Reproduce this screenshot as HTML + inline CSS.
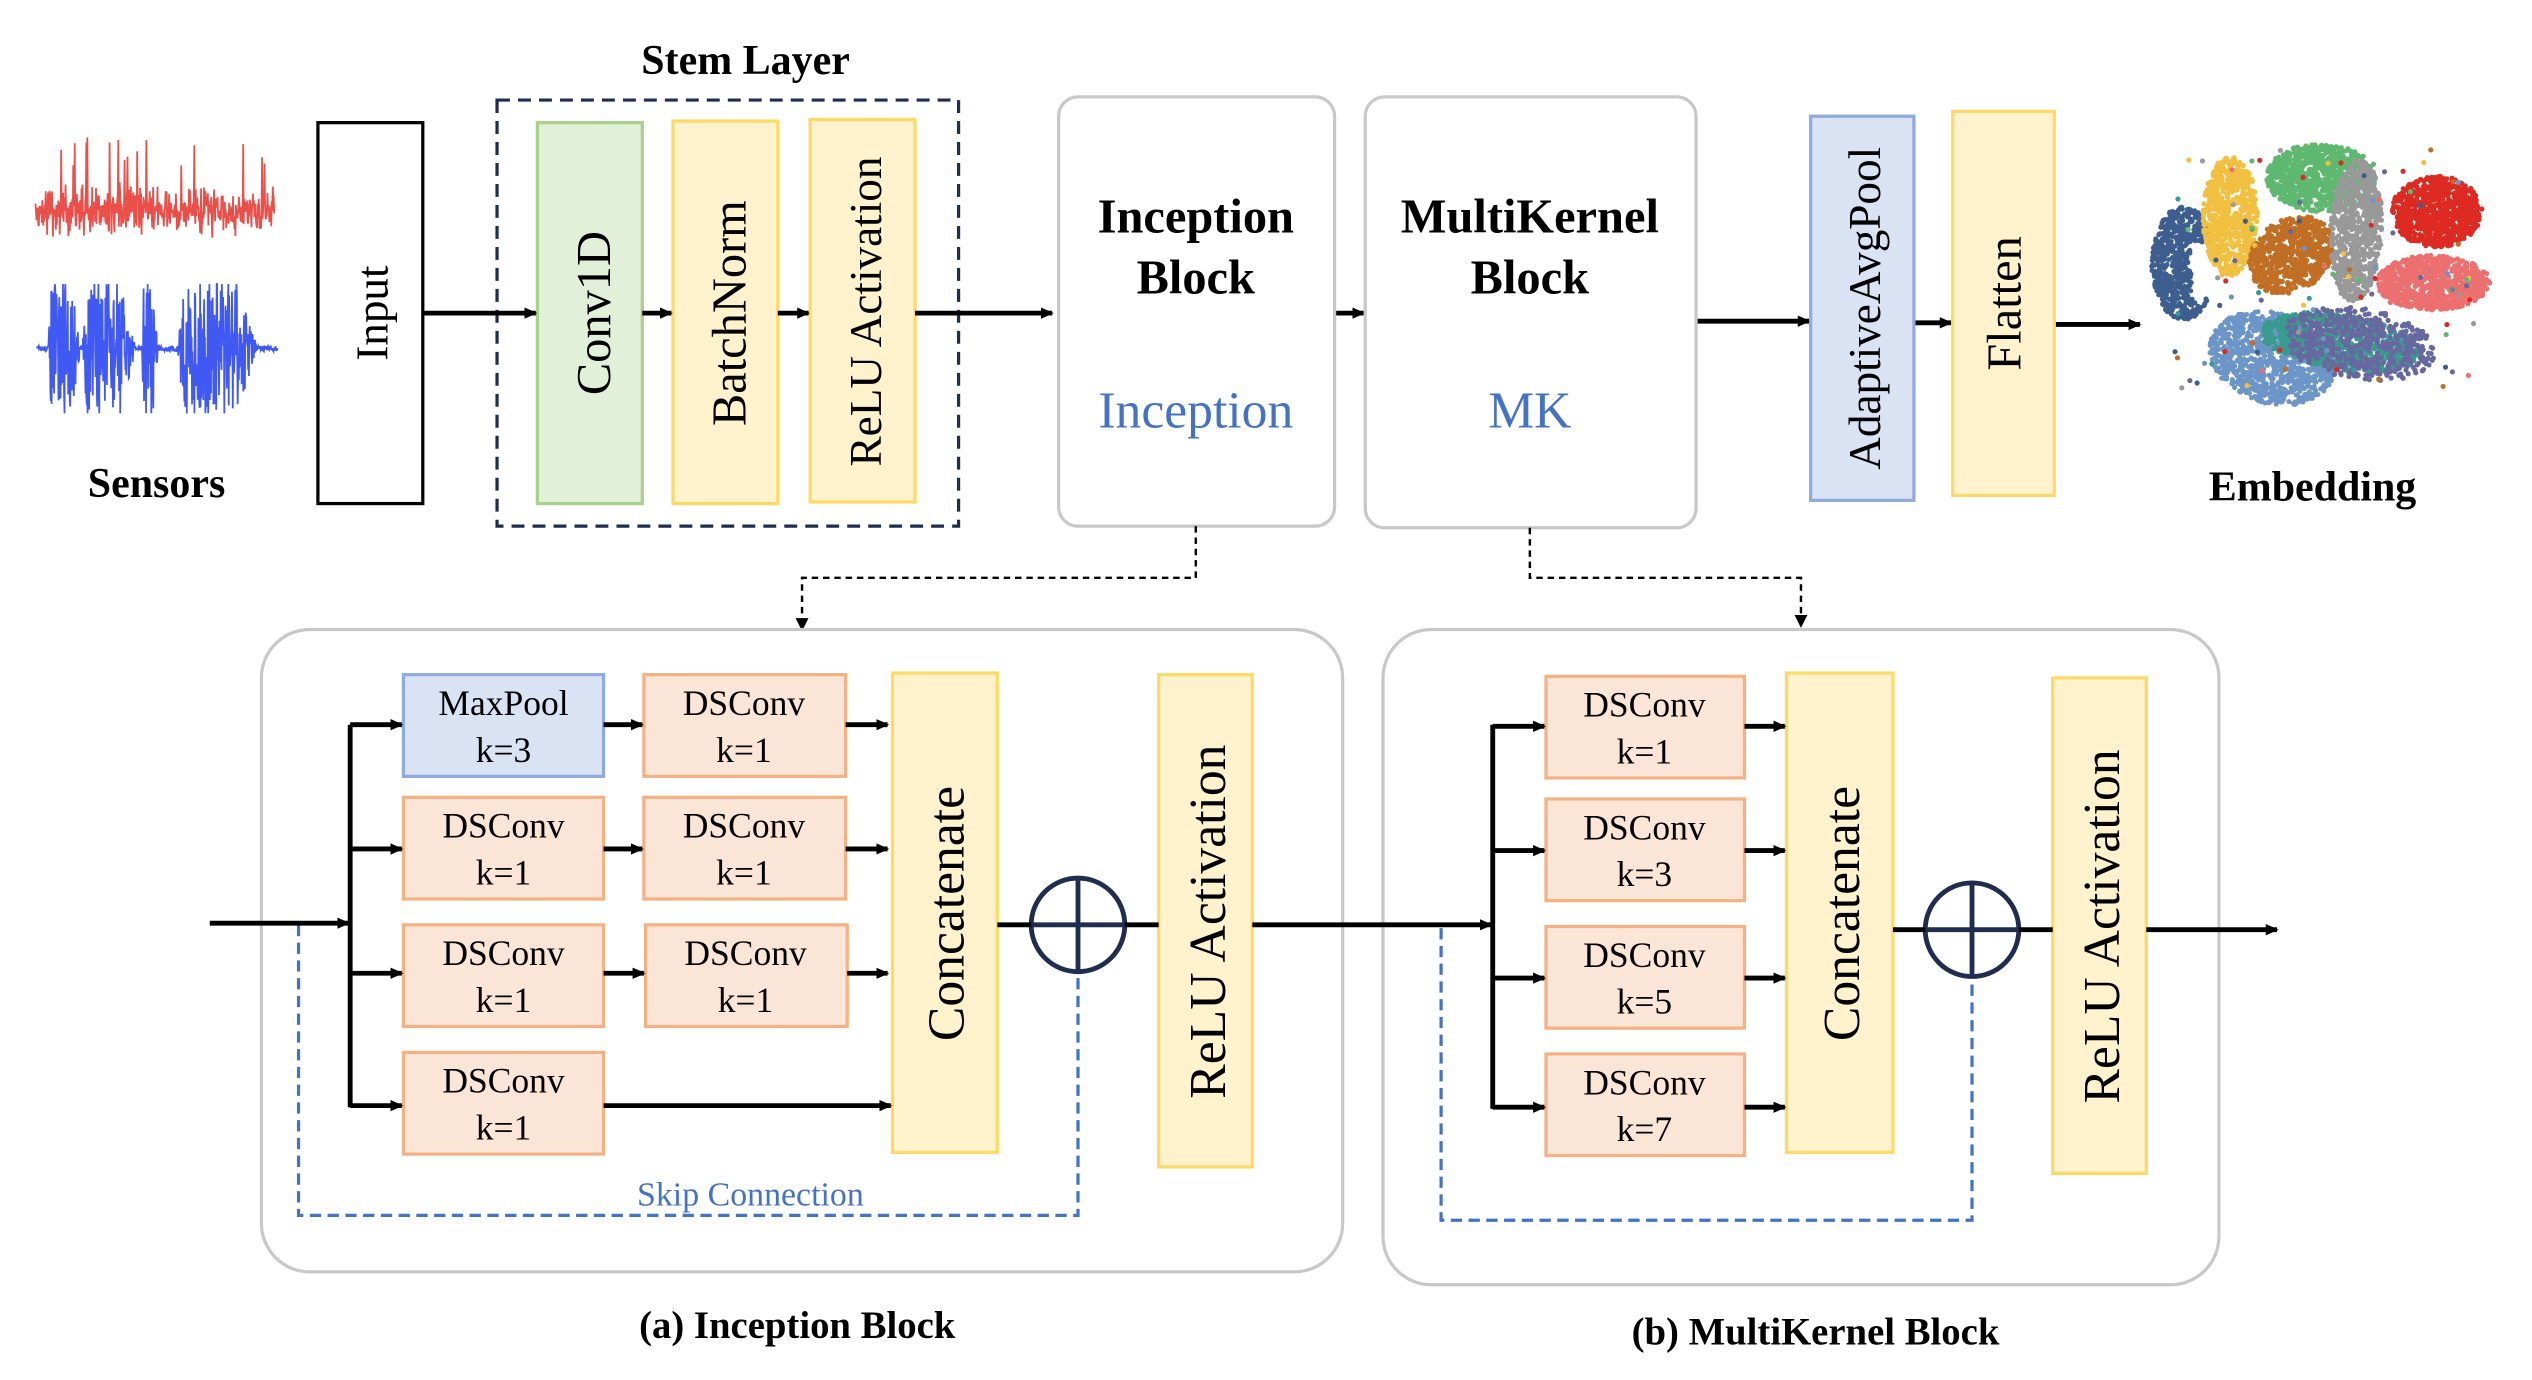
<!DOCTYPE html>
<html><head><meta charset="utf-8"><style>
html,body{margin:0;padding:0;background:#fff}
svg{display:block}
text{font-family:"Liberation Serif",serif}
</style></head><body>
<svg id="s" width="2532" height="1380" viewBox="0 0 1569 855" preserveAspectRatio="none" xmlns="http://www.w3.org/2000/svg">
<defs>
<marker id="a" markerWidth="8" markerHeight="8" refX="7" refY="4" orient="auto" markerUnits="userSpaceOnUse"><path d="M0,0.5 L8,4 L0,7.5 z" fill="#000"/></marker>
</defs>
<g id="sig"></g>
<text x="97" y="308" font-size="26" font-weight="bold" text-anchor="middle">Sensors</text>
<rect x="197" y="76" width="65" height="236" fill="#fff" stroke="#000" stroke-width="2"/>
<text transform="translate(240,194) rotate(-90)" font-size="28" text-anchor="middle">Input</text>
<text x="462" y="46" font-size="26" font-weight="bold" text-anchor="middle">Stem Layer</text>
<rect x="308" y="62" width="286" height="264" fill="none" stroke="#1f2d4f" stroke-width="2" stroke-dasharray="8,5"/>
<rect x="333" y="76" width="65" height="236" fill="#e2efd9" stroke="#a9d18e" stroke-width="2"/>
<text transform="translate(378,194) rotate(-90)" font-size="30" text-anchor="middle">Conv1D</text>
<rect x="417" y="75" width="65" height="237" fill="#fff2cc" stroke="#ffd966" stroke-width="2"/>
<text transform="translate(462,194) rotate(-90)" font-size="30" text-anchor="middle">BatchNorm</text>
<rect x="502" y="74" width="65" height="237" fill="#fff2cc" stroke="#ffd966" stroke-width="2"/>
<text transform="translate(546,193) rotate(-90)" font-size="28" text-anchor="middle">ReLU Activation</text>
<g stroke="#000" stroke-width="3" marker-end="url(#a)">
<line x1="262" y1="194" x2="332" y2="194"/>
<line x1="398" y1="194" x2="416" y2="194"/>
<line x1="482" y1="194" x2="501" y2="194"/>
<line x1="567" y1="194" x2="652" y2="194"/>
<line x1="827" y1="194" x2="845" y2="194"/>
<line x1="1051" y1="199" x2="1121" y2="199"/>
<line x1="1186" y1="200" x2="1209" y2="200"/>
<line x1="1273" y1="201" x2="1326" y2="201"/>
</g>
<rect x="656" y="60" width="171" height="266" rx="12" fill="#fff" stroke="#c8c8c8" stroke-width="2"/>
<text x="741" y="144" font-size="30" font-weight="bold" text-anchor="middle">Inception</text>
<text x="741" y="182" font-size="30" font-weight="bold" text-anchor="middle">Block</text>
<text x="741" y="265" font-size="32" fill="#4472c4" text-anchor="middle">Inception</text>
<rect x="846" y="60" width="205" height="267" rx="12" fill="#fff" stroke="#c8c8c8" stroke-width="2"/>
<text x="948" y="144" font-size="30" font-weight="bold" text-anchor="middle">MultiKernel</text>
<text x="948" y="182" font-size="30" font-weight="bold" text-anchor="middle">Block</text>
<text x="948" y="265" font-size="32" fill="#4472c4" text-anchor="middle">MK</text>
<rect x="1122" y="72" width="64" height="238" fill="#dae3f3" stroke="#8faadc" stroke-width="2"/>
<text transform="translate(1165,191) rotate(-90)" font-size="28" text-anchor="middle">AdaptiveAvgPool</text>
<rect x="1210" y="69" width="63" height="238" fill="#fff2cc" stroke="#ffd966" stroke-width="2"/>
<text transform="translate(1252,188) rotate(-90)" font-size="30" text-anchor="middle">Flatten</text>
<g id="emb"></g>
<text x="1433" y="310" font-size="26" font-weight="bold" text-anchor="middle">Embedding</text>
<g fill="none" stroke="#000" stroke-width="1.5" stroke-dasharray="4,3">
<polyline points="741,326 741,358 497,358 497,386"/>
<polyline points="948,327 948,358 1116,358 1116,384"/>
</g>
<path d="M493,383 L497,391 L501,383z M1112,381 L1116,389 L1120,381z"/>
<rect x="162" y="390" width="670" height="398" rx="30" fill="#fff" stroke="#c8c8c8" stroke-width="2"/>
<rect x="857" y="390" width="518" height="406" rx="30" fill="#fff" stroke="#c8c8c8" stroke-width="2"/>
<g stroke-width="2">
<rect x="250" y="418" width="124" height="63" fill="#dae3f3" stroke="#8faadc"/>
<rect x="399" y="418" width="125" height="63" fill="#fbe5d6" stroke="#f4b183"/>
<rect x="250" y="494" width="124" height="63" fill="#fbe5d6" stroke="#f4b183"/>
<rect x="399" y="494" width="125" height="63" fill="#fbe5d6" stroke="#f4b183"/>
<rect x="250" y="573" width="124" height="63" fill="#fbe5d6" stroke="#f4b183"/>
<rect x="400" y="573" width="125" height="63" fill="#fbe5d6" stroke="#f4b183"/>
<rect x="250" y="652" width="124" height="63" fill="#fbe5d6" stroke="#f4b183"/>
<rect x="958" y="419" width="123" height="63" fill="#fbe5d6" stroke="#f4b183"/>
<rect x="958" y="495" width="123" height="63" fill="#fbe5d6" stroke="#f4b183"/>
<rect x="958" y="574" width="123" height="63" fill="#fbe5d6" stroke="#f4b183"/>
<rect x="958" y="653" width="123" height="63" fill="#fbe5d6" stroke="#f4b183"/>
</g>
<g font-size="22" text-anchor="middle">
<text x="312" y="443">MaxPool</text><text x="312" y="472">k=3</text>
<text x="461" y="443">DSConv</text><text x="461" y="472">k=1</text>
<text x="312" y="519">DSConv</text><text x="312" y="548">k=1</text>
<text x="461" y="519">DSConv</text><text x="461" y="548">k=1</text>
<text x="312" y="598">DSConv</text><text x="312" y="627">k=1</text>
<text x="462" y="598">DSConv</text><text x="462" y="627">k=1</text>
<text x="312" y="677">DSConv</text><text x="312" y="706">k=1</text>
<text x="1019" y="444">DSConv</text><text x="1019" y="473">k=1</text>
<text x="1019" y="520">DSConv</text><text x="1019" y="549">k=3</text>
<text x="1019" y="599">DSConv</text><text x="1019" y="628">k=5</text>
<text x="1019" y="678">DSConv</text><text x="1019" y="707">k=7</text>
</g>
<rect x="553" y="417" width="65" height="297" fill="#fff2cc" stroke="#ffd966" stroke-width="2"/>
<text transform="translate(597,566) rotate(-90)" font-size="32" text-anchor="middle">Concatenate</text>
<rect x="718" y="418" width="58" height="305" fill="#fff2cc" stroke="#ffd966" stroke-width="2"/>
<text transform="translate(759,571) rotate(-90)" font-size="32" text-anchor="middle">ReLU Activation</text>
<rect x="1107" y="417" width="66" height="297" fill="#fff2cc" stroke="#ffd966" stroke-width="2"/>
<text transform="translate(1152,566) rotate(-90)" font-size="32" text-anchor="middle">Concatenate</text>
<rect x="1272" y="420" width="58" height="307" fill="#fff2cc" stroke="#ffd966" stroke-width="2"/>
<text transform="translate(1313,574) rotate(-90)" font-size="32" text-anchor="middle">ReLU Activation</text>
<g fill="none" stroke="#4472c4" stroke-width="2" stroke-dasharray="7,4">
<polyline points="175,572 185,572 185,753 668,753 668,602"/>
<polyline points="873,573 893,573 893,756 1222,756 1222,605"/>
</g>
<text x="465" y="747" font-size="21" fill="#4472c4" text-anchor="middle">Skip Connection</text>
<g fill="none" stroke="#1f2d4f" stroke-width="3">
<circle cx="668" cy="573" r="29"/><line x1="639" y1="573" x2="697" y2="573"/><line x1="668" y1="544" x2="668" y2="602"/>
<circle cx="1222" cy="576" r="29"/><line x1="1193" y1="576" x2="1251" y2="576"/><line x1="1222" y1="547" x2="1222" y2="605"/>
</g>
<g stroke="#000" stroke-width="3" fill="none">
<line x1="130" y1="572" x2="216" y2="572" marker-end="url(#a)"/>
<line x1="217" y1="449" x2="217" y2="686"/>
<line x1="217" y1="449" x2="249" y2="449" marker-end="url(#a)"/>
<line x1="217" y1="526" x2="249" y2="526" marker-end="url(#a)"/>
<line x1="217" y1="603" x2="249" y2="603" marker-end="url(#a)"/>
<line x1="217" y1="685" x2="249" y2="685" marker-end="url(#a)"/>
<line x1="374" y1="449" x2="398" y2="449" marker-end="url(#a)"/>
<line x1="374" y1="526" x2="398" y2="526" marker-end="url(#a)"/>
<line x1="374" y1="603" x2="399" y2="603" marker-end="url(#a)"/>
<line x1="374" y1="685" x2="552" y2="685" marker-end="url(#a)"/>
<line x1="524" y1="449" x2="550" y2="449" marker-end="url(#a)"/>
<line x1="524" y1="526" x2="550" y2="526" marker-end="url(#a)"/>
<line x1="525" y1="603" x2="550" y2="603" marker-end="url(#a)"/>
<line x1="618" y1="573" x2="639" y2="573"/>
<line x1="697" y1="573" x2="718" y2="573"/>
<line x1="776" y1="573" x2="924" y2="573" marker-end="url(#a)"/>
<line x1="925" y1="449" x2="925" y2="687"/>
<line x1="925" y1="450" x2="957" y2="450" marker-end="url(#a)"/>
<line x1="925" y1="527" x2="957" y2="527" marker-end="url(#a)"/>
<line x1="925" y1="606" x2="957" y2="606" marker-end="url(#a)"/>
<line x1="925" y1="686" x2="957" y2="686" marker-end="url(#a)"/>
<line x1="1081" y1="450" x2="1106" y2="450" marker-end="url(#a)"/>
<line x1="1081" y1="527" x2="1106" y2="527" marker-end="url(#a)"/>
<line x1="1081" y1="606" x2="1106" y2="606" marker-end="url(#a)"/>
<line x1="1081" y1="686" x2="1106" y2="686" marker-end="url(#a)"/>
<line x1="1173" y1="576" x2="1193" y2="576"/>
<line x1="1251" y1="576" x2="1272" y2="576"/>
<line x1="1330" y1="576" x2="1411" y2="576" marker-end="url(#a)"/>
</g>
<text x="494" y="829" font-size="24" font-weight="bold" text-anchor="middle">(a) Inception Block</text>
<text x="1125" y="833" font-size="24" font-weight="bold" text-anchor="middle">(b) MultiKernel Block</text>
</svg>
<script>
var ns="http://www.w3.org/2000/svg";
var seed=7;function r(){seed=(seed*16807)%2147483647;return seed/2147483647;}
function g(){return (r()+r()+r()-1.5)/1.5;}
var sig=document.getElementById('sig');
function path(d,c,w,o){var e=document.createElementNS(ns,"path");e.setAttribute("d",d);e.setAttribute("stroke",c);e.setAttribute("fill","none");e.setAttribute("stroke-width",w);e.setAttribute("stroke-opacity",o);sig.appendChild(e);}
var p="";for(var x=22;x<=170;x+=0.3){var v=g()*20;if(r()<0.03)v=-25-r()*20;p+=(x==22?"M":"L")+x.toFixed(2)+","+(130+v).toFixed(2)+" ";}
path(p,"#e8302a",1.1,0.85);
var bursts=[[30,50],[51,84],[88,98],[110,160]];
p="";for(var x=23;x<=172;x+=0.25){var env=0.04;
 bursts.forEach(function(b){if(x>=b[0]&&x<=b[1]){var t=(x-b[0])/(b[1]-b[0]);env=Math.max(env,Math.min(1,Math.sin(Math.PI*Math.pow(t,0.7))*1.6));}});
 var v=(r()*2-1)*44*env;v=Math.max(-40,Math.min(40,v));
 p+=(x==23?"M":"L")+x.toFixed(2)+","+(216+v).toFixed(2)+" ";}
path(p,"#1030f0",1.1,0.8);
var emb=document.getElementById('emb');
function dot(x,y,c){var d=document.createElementNS(ns,"circle");d.setAttribute("cx",x.toFixed(1));d.setAttribute("cy",y.toFixed(1));d.setAttribute("r",1.6);d.setAttribute("fill",c);emb.appendChild(d);}
var cl=[[1353,163,20,35,"#3d5e8f",800,0],[1382,134,17,37,"#f2c040",700,0],[1438,110,34,21,"#5fb870",800,0],[1420,158,28,22,"#c06f25",700,-0.6],[1460,143,16,44,"#999999",700,0.05],[1510,131,28,22,"#dd2a22",800,0],[1508,175,35,17,"#ec7070",800,0],[1408,222,40,28,"#6d96c8",1000,0.3],[1450,212,50,17,"#3a9a8e",800,0.15],[1462,213,48,22,"#6868a0",500,0.15]];
cl.forEach(function(c){for(var i=0;i<c[5];i++){var a=r()*2*Math.PI,rr=Math.sqrt(r());var dx=Math.cos(a)*rr*c[2],dy=Math.sin(a)*rr*c[3];var cs=Math.cos(c[6]),sn=Math.sin(c[6]);var x=c[0]+dx*cs-dy*sn,y=c[1]+dx*sn+dy*cs;
 if(c[4]=="#3d5e8f"&&x>1358&&y>150&&y<185)continue;
 dot(x,y,c[4]);}});
for(var i=0;i<100;i++){dot(1345+r()*190,92+r()*150,cl[Math.floor(r()*cl.length)][4]);}
</script>
</body></html>
